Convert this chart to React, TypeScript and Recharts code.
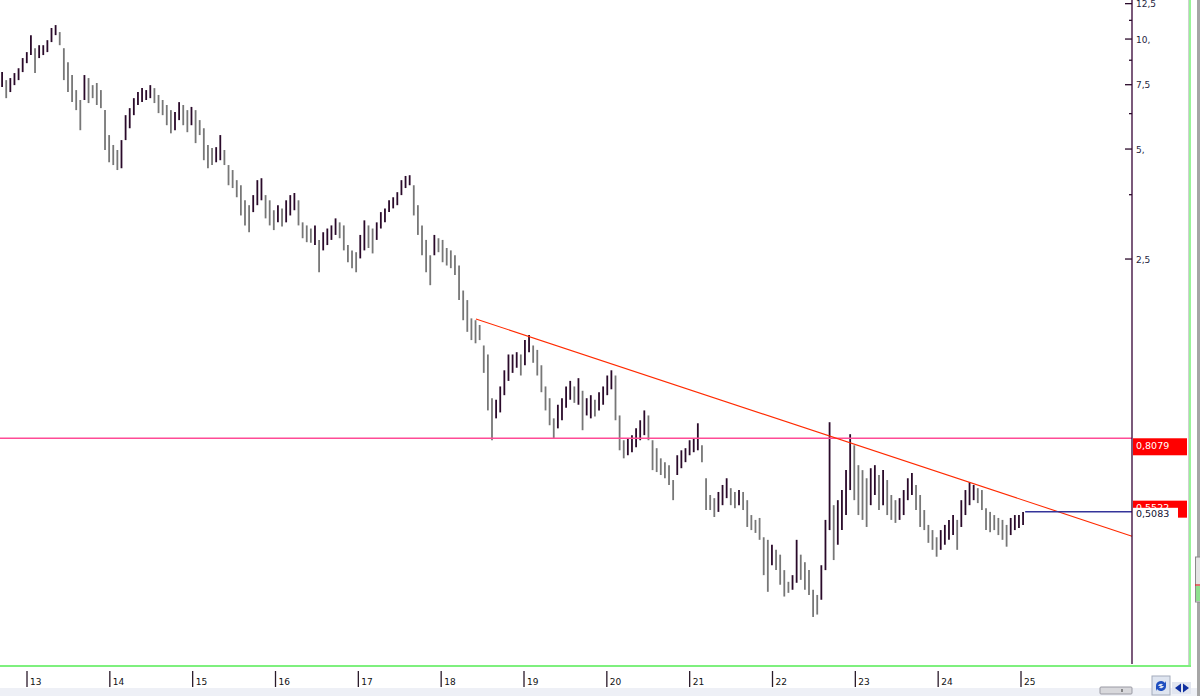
import React from 'react';
import { ComposedChart, Bar, XAxis, YAxis, ReferenceLine } from 'recharts';

// ---- data (price bars, log scale) ----
const HIGHS = [
  8.12, 7.72, 7.82, 8.07, 8.32, 8.87, 9.21, 10.25, 9.44, 9.62,
  9.62, 9.93, 10.72, 10.92, 10.45, 9.44, 8.64, 7.97, 7.25, 6.81,
  7.97, 7.82, 7.48, 7.58, 7.25, 6.39, 5.46, 5.13, 4.97, 5.29,
  6.19, 6.47, 6.89, 7.16, 7.34, 7.25, 7.48, 7.34, 7.03, 6.81,
  6.6, 6.39, 6.31, 6.72, 6.6, 6.39, 6.52, 6.39, 6.0, 5.7,
  5.13, 5.03, 5.06, 5.46, 4.97, 4.52, 4.38, 4.11, 3.98, 3.62,
  3.51, 3.74, 4.11, 4.16, 3.74, 3.62, 3.4, 3.51, 3.44, 3.62,
  3.74, 3.79, 3.62, 3.15, 3.09, 3.03, 3.09, 2.82, 2.96, 3.03,
  3.09, 3.23, 3.15, 3.09, 2.73, 2.64, 2.61, 2.91, 3.19, 3.09,
  3.03, 3.15, 3.36, 3.44, 3.62, 3.69, 3.81, 4.11, 4.22, 4.24,
  3.98, 3.51, 3.09, 2.82, 2.56, 2.91, 2.85, 2.82, 2.68, 2.64,
  2.56, 2.4, 2.05, 1.93, 1.72, 1.7, 1.65, 1.45, 1.37, 1.04,
  1.03, 1.12, 1.24, 1.37, 1.37, 1.39, 1.37, 1.5, 1.55, 1.45,
  1.41, 1.28, 1.12, 1.04, 0.916, 0.998, 1.04, 1.12, 1.16, 1.12,
  1.18, 1.09, 1.04, 1.06, 1.03, 1.08, 1.12, 1.2, 1.24, 1.2,
  0.933, 0.798, 0.808, 0.824, 0.86, 0.905, 0.963, 0.933, 0.798, 0.759,
  0.712, 0.695, 0.682, 0.621, 0.726, 0.749, 0.759, 0.798, 0.808, 0.888,
  0.773, 0.628, 0.565, 0.554, 0.576, 0.602, 0.628, 0.59, 0.576, 0.583,
  0.576, 0.547, 0.498, 0.483, 0.489, 0.433, 0.426, 0.413, 0.4, 0.388,
  0.352, 0.327, 0.341, 0.426, 0.388, 0.37, 0.352, 0.311, 0.301, 0.363,
  0.483, 0.894, 0.53, 0.547, 0.583, 0.661, 0.829, 0.773, 0.682, 0.661,
  0.628, 0.669, 0.682, 0.641, 0.661, 0.621, 0.565, 0.547, 0.554, 0.583,
  0.628, 0.649, 0.602, 0.565, 0.514, 0.468, 0.453, 0.433, 0.453, 0.468,
  0.483, 0.498, 0.483, 0.547, 0.583, 0.613, 0.602, 0.59, 0.583, 0.52,
  0.508, 0.498, 0.489, 0.483, 0.468, 0.489, 0.498, 0.498, 0.508,
];

const LOWS = [
  7.39, 6.89, 7.16, 7.48, 7.72, 8.12, 8.59, 9.04, 8.07, 8.87,
  9.04, 9.21, 9.81, 10.25, 9.62, 7.72, 7.16, 6.72, 6.39, 5.63,
  6.81, 6.68, 6.89, 6.6, 6.47, 4.97, 4.6, 4.52, 4.38, 4.43,
  5.29, 5.7, 6.19, 6.6, 6.72, 6.81, 6.89, 6.68, 6.27, 6.19,
  5.81, 5.52, 5.63, 6.0, 5.81, 5.56, 5.81, 5.19, 5.46, 4.66,
  4.43, 4.52, 4.6, 4.66, 4.52, 3.98, 3.91, 3.69, 3.29, 3.09,
  2.96, 3.36, 3.51, 3.62, 3.23, 3.09, 3.0, 3.15, 3.07, 3.15,
  3.29, 3.4, 3.09, 2.85, 2.78, 2.77, 2.73, 2.3, 2.64, 2.73,
  2.82, 2.91, 2.85, 2.64, 2.45, 2.36, 2.3, 2.51, 2.64, 2.68,
  2.59, 2.82, 3.03, 3.15, 3.36, 3.44, 3.51, 3.74, 3.91, 3.98,
  3.29, 2.91, 2.56, 2.3, 2.12, 2.56, 2.61, 2.45, 2.4, 2.36,
  2.26, 1.93, 1.7, 1.58, 1.5, 1.47, 1.5, 1.22, 0.963, 0.798,
  0.916, 0.951, 1.06, 1.16, 1.22, 1.26, 1.2, 1.28, 1.39, 1.3,
  1.2, 1.08, 0.963, 0.877, 0.808, 0.86, 0.905, 0.979, 1.03, 1.01,
  0.998, 0.85, 0.933, 0.916, 0.927, 0.963, 0.998, 1.06, 1.1, 0.905,
  0.749, 0.712, 0.726, 0.74, 0.764, 0.798, 0.824, 0.798, 0.661, 0.653,
  0.641, 0.628, 0.602, 0.547, 0.641, 0.669, 0.695, 0.726, 0.74, 0.749,
  0.695, 0.514, 0.514, 0.492, 0.508, 0.53, 0.554, 0.53, 0.52, 0.53,
  0.514, 0.462, 0.453, 0.445, 0.426, 0.341, 0.307, 0.363, 0.352, 0.321,
  0.298, 0.305, 0.311, 0.325, 0.331, 0.311, 0.301, 0.262, 0.266, 0.292,
  0.352, 0.453, 0.375, 0.413, 0.453, 0.498, 0.583, 0.547, 0.498, 0.483,
  0.462, 0.53, 0.565, 0.514, 0.53, 0.498, 0.483, 0.474, 0.483, 0.498,
  0.547, 0.565, 0.514, 0.462, 0.453, 0.418, 0.4, 0.383, 0.4, 0.413,
  0.426, 0.439, 0.4, 0.462, 0.498, 0.53, 0.547, 0.537, 0.514, 0.453,
  0.447, 0.453, 0.439, 0.426, 0.408, 0.439, 0.453, 0.459, 0.468,
];

// time axis: year numbers (13 = 2013 ...), bars every ~2.6 weeks
const FIRST_T = 12.7;
const BAR_STEP = 0.0497;
const X_TICKS = [13, 14, 15, 16, 17, 18, 19, 20, 21, 22, 23, 24, 25];
const X_DOMAIN: [number, number] = [12.674, 26.34];

const Y_MAJOR = [12.5, 10, 7.5, 5, 2.5];
const Y_MINOR = [11.25, 8.75, 6.25, 3.75];
const Y_LABELS = ['12,5', '10,', '7,5', '5,', '2,5'];
const Y_DOMAIN: [number, number] = [0.1948, 12.79];

const SUPPORT_LEVEL = 0.8079;
const SUPPORT_LABEL = '0,8079';
const TREND_NOW_LEVEL = 0.5522;
const TREND_NOW_LABEL = '0,5522';
const LAST_PRICE = 0.5083;
const LAST_PRICE_LABEL = '0,5083';
const LAST_PRICE_FROM_T = 25.05;
const TREND_START = { x: 18.42, y: 1.713 };
const TREND_END = { x: 26.34, y: 0.436 };

const data = HIGHS.map((h, i) => ({
  t: FIRST_T + i * BAR_STEP,
  range: [LOWS[i], h],
  up: i === 0 ? true : h + LOWS[i] >= HIGHS[i - 1] + LOWS[i - 1],
}));

const FONT = 'DejaVu Sans, Verdana, sans-serif';

const BarShape = (props: any) => {
  const { x, y, width, height, payload } = props;
  if (x == null || y == null) return null;
  const cx = x + width / 2;
  return (
    <line
      x1={cx}
      x2={cx}
      y1={y}
      y2={y + height}
      stroke={payload.up ? '#2a0a2a' : '#777777'}
      strokeWidth={1.8}
    />
  );
};

const YTick = (props: any) => {
  const { x, y, payload } = props;
  const v = payload.value;
  const mi = Y_MAJOR.indexOf(v);
  const major = mi >= 0;
  return (
    <g>
      <line x1={x - (major ? 7 : 3)} x2={x} y1={y} y2={y} stroke="#2a0a2a" strokeWidth={1.3} />
      {major && (
        <text x={x + 4} y={y + 3.5} fontSize={9} fill="#1e1e40" fontFamily={FONT}>
          {Y_LABELS[mi]}
        </text>
      )}
    </g>
  );
};

const XTick = (props: any) => {
  const { x, y, payload } = props;
  return (
    <g>
      <line x1={x} x2={x} y1={y + 7} y2={y + 23} stroke="#2a1a2a" strokeWidth={1.3} />
      <text x={x + 3} y={y + 20.5} fontSize={9} fill="#111" fontFamily={FONT}>
        {payload.value}
      </text>
    </g>
  );
};

const boxLabel = (text: string, fill: string, color: string, w: number, dy: number, h: number, base: number) =>
  (props: any) => {
    const vb = props.viewBox || {};
    const right = (vb.x ?? 0) + (vb.width ?? 0);
    const top = (vb.y ?? 0) + dy;
    return (
      <g>
        <rect x={right + 1} y={top} width={w} height={h} fill={fill} />
        <text x={right + 4} y={top + base} fontSize={9.5} fill={color} fontFamily={FONT}>
          {text}
        </text>
      </g>
    );
  };

export default function App() {
  return (
    <div style={{ position: 'absolute', left: 0, top: 0, width: 1200, height: 696, background: '#fff', overflow: 'hidden' }}>
      <ComposedChart width={1200} height={696} data={data} margin={{ top: 0, right: 10, bottom: 0, left: 0 }}>
        <XAxis
          dataKey="t"
          type="number"
          domain={X_DOMAIN}
          ticks={X_TICKS}
          allowDataOverflow
          axisLine={false}
          tickLine={false}
          tickSize={0}
          tickMargin={0}
          height={32}
          tick={<XTick />}
          interval={0}
        />
        <YAxis
          orientation="right"
          scale="log"
          domain={Y_DOMAIN}
          allowDataOverflow
          ticks={[...Y_MAJOR, ...Y_MINOR]}
          axisLine={{ stroke: '#330033', strokeWidth: 1.3 }}
          tickLine={false}
          tickSize={0}
          tickMargin={0}
          width={58}
          tick={<YTick />}
          interval={0}
        />
        <Bar dataKey="range" barSize={2} shape={<BarShape />} isAnimationActive={false} />
        <ReferenceLine
          y={SUPPORT_LEVEL}
          stroke="#ff4b96"
          strokeWidth={1.6}
          ifOverflow="visible"
          label={boxLabel(SUPPORT_LABEL, '#ff0000', '#ffffff', 54, 0, 17, 10.5)}
        />
        <ReferenceLine
          y={TREND_NOW_LEVEL}
          stroke="none"
          ifOverflow="visible"
          label={boxLabel(TREND_NOW_LABEL, '#ff0000', '#ffffff', 54, 2, 17, 10.5)}
        />
        <ReferenceLine
          segment={[TREND_START, TREND_END]}
          stroke="#ff2a00"
          strokeWidth={1.1}
          ifOverflow="visible"
        />
        <ReferenceLine
          segment={[{ x: LAST_PRICE_FROM_T, y: LAST_PRICE }, { x: X_DOMAIN[1], y: LAST_PRICE }]}
          stroke="#34349a"
          strokeWidth={1.4}
          ifOverflow="visible"
        />
        <ReferenceLine
          y={LAST_PRICE}
          stroke="none"
          ifOverflow="visible"
          label={boxLabel(LAST_PRICE_LABEL, '#ffffff', '#101030', 45, -4, 11.5, 9)}
        />
      </ComposedChart>
      <svg width={1200} height={696} style={{ position: 'absolute', left: 0, top: 0, pointerEvents: 'none' }}>
        <line x1={1188.5} x2={1188.5} y1={0} y2={665} stroke="#d0d0d0" strokeWidth={1} />
        <line x1={1190} x2={1190} y1={0} y2={667} stroke="#7ef07e" strokeWidth={1.6} />
        <line x1={0} x2={1191} y1={666} y2={666} stroke="#7ef07e" strokeWidth={1.8} />
        <rect x={1197} y={0} width={3} height={696} fill="#a6a6a6" />
        <rect x={1195.5} y={557} width={5} height={45} fill="#e4e4e4" stroke="#8a8a8a" strokeWidth={1} />
        <line x1={1195} x2={1200} y1={585} y2={585} stroke="#e02020" strokeWidth={1.2} />
        <rect x={1196} y={586} width={4} height={15} fill="#8ee08e" />
        <rect x={0} y={688} width={1197} height={8} fill="#eef0f6" />
        <rect x={1100} y={687} width={32} height={7} rx={1} fill="#d8d8dc" stroke="#9a9aa4" strokeWidth={1} />
        <line x1={1122} x2={1122} y1={689} y2={692} stroke="#333" strokeWidth={1} />
        <rect x={1152} y={676} width={18} height={19} fill="#dfe5f0" stroke="#a4acbc" strokeWidth={1} />
        <path d="M1156 686 a5 5 0 0 1 9 -3 l1 -2 v5 h-5 l2 -1.5 a3 3 0 0 0 -5 2 z" fill="#1f4fc0" />
        <path d="M1166 686 a5 5 0 0 1 -9 3 l-1 2 v-5 h5 l-2 1.5 a3 3 0 0 0 5 -2 z" fill="#1f4fc0" />
        <rect x={1172} y={682} width={19} height={12} fill="#e2e6f0" />
        <path d="M1175 688 l6 -4.5 v9 z" fill="#1030a0" />
        <path d="M1189 688 l-6 -4.5 v9 z" fill="#1030a0" />
      </svg>
    </div>
  );
}
